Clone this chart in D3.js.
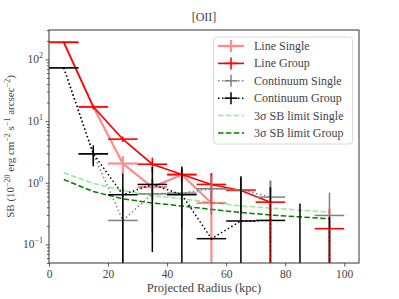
<!DOCTYPE html>
<html><head><meta charset="utf-8">
<script src="https://cdn.jsdelivr.net/npm/d3@7"></script>
<style>body{margin:0;background:#fff}svg{display:block}text{font-family:"Liberation Serif","DejaVu Serif",serif;fill:#444}</style>
</head><body><svg id="c" width="399" height="299"></svg>
<script>
const radius = [5,15,25,35,45,55,65,75,85,95];
const binHalf = 5;
const lineSingle    = [190, 17, 2.05, 0.85, 1.35, 0.47, null, null, null, null];
const lineSingleErr = [6, 1.2, 0.65, 0.3, 0.3, 0.93, null, null, null, null];
const lineGroup     = [190, 17, 5.1, 2.0, 1.36, 0.94, 0.75, 0.485, null, 0.18];
const lineGroupErr  = [6, 1.5, 0.5, 0.55, 0.35, 0.5, 0.4, 0.6, null, 0.2];
const contSingle    = [73, 2.9, 0.245, 0.66, 0.68, 0.8, 0.77, 0.585, null, 0.295];
const contSingleErr = [2, 0.8, 0.6, 0.5, 0.5, 0.5, 0.46, 0.48, null, 0.4];
const contGroup     = [73, 2.95, 0.64, 0.94, 0.64, 0.124, 0.24, 0.245, -0.2, -0.1];
const contGroupErr  = [2, 1.1, 0.77, 0.865, 1.2, 0.005, 1.03, 0.6, 0.66, 0.38];
const limSingle     = [1.45, 0.98, 0.75, 0.62, 0.55, 0.48, 0.42, 0.39, 0.36, 0.335];
const limGroup      = [1.13, 0.72, 0.55, 0.47, 0.42, 0.37, 0.33, 0.30, 0.28, 0.26];
const xTicks = [0,20,40,60,80,100];
const yTickExp = [-1,0,1,2];
const title = "[OII]";
const xLabel = "Projected Radius (kpc)";
const legendLabels = ["Line Single","Line Group","Continuum Single","Continuum Group","3σ SB limit Single","3σ SB limit Group"];

const L=49, T=30, R=359, B=263;
const svg = d3.select("#c");
const x = d3.scaleLinear().domain([0,105]).range([L,R]);
const y = d3.scaleLog().domain([0.05,300]).range([B,T]);
const ymin = y.domain()[0], ymax = y.domain()[1];

svg.append("defs").append("clipPath").attr("id","clip").append("rect")
  .attr("x",L).attr("y",T).attr("width",R-L).attr("height",B-T);
const plot = svg.append("g").attr("clip-path","url(#clip)");

const styles = {
  ls:{color:"red",op:0.45,w:2.2,dash:null},
  lg:{color:"red",op:1,w:1.6,dash:null},
  cs:{color:"#808080",op:1,w:1.5,dash:"1.5,2.5"},
  cg:{color:"black",op:1,w:1.5,dash:"1.5,2.5"},
  ms:{color:"#90ee90",op:1,w:1.5,dash:"5.5,2.4"},
  mg:{color:"green",op:1,w:1.5,dash:"5.5,2.4"}
};

const lineGen = d3.line().defined(d=>d[1]!=null && d[1]>0).x(d=>x(d[0])).y(d=>y(d[1]));

function drawLimit(vals, st){
  plot.append("path").datum(radius.map((r,i)=>[r,vals[i]]))
    .attr("d",lineGen).attr("fill","none").attr("stroke",st.color)
    .attr("stroke-width",st.w).attr("stroke-dasharray",st.dash);
}
function drawSeries(vals, errs, st){
  const g = plot.append("g").attr("opacity",st.op);
  g.append("path").datum(radius.map((r,i)=>[r,vals[i]]))
    .attr("d",lineGen).attr("fill","none").attr("stroke",st.color)
    .attr("stroke-width",st.w).attr("stroke-dasharray",st.dash);
  radius.forEach((r,i)=>{
    const v=vals[i], e=errs[i];
    if(v==null||e==null) return;
    const hi=v+e, lo=v-e;
    if(hi>0){
      const loC = lo>ymin? lo : ymin*0.5;
      g.append("line").attr("x1",x(r)).attr("x2",x(r))
        .attr("y1",y(Math.min(hi,ymax*2))).attr("y2",y(loC))
        .attr("stroke",st.color).attr("stroke-width",st.w);
    }
    if(v>0){
      g.append("line").attr("x1",x(r-binHalf)).attr("x2",x(r+binHalf))
        .attr("y1",y(v)).attr("y2",y(v)).attr("stroke",st.color).attr("stroke-width",st.w);
    }
  });
}
drawLimit(limSingle, styles.ms);
drawLimit(limGroup, styles.mg);
drawSeries(lineSingle, lineSingleErr, styles.ls);
drawSeries(lineGroup, lineGroupErr, styles.lg);
drawSeries(contSingle, contSingleErr, styles.cs);
drawSeries(contGroup, contGroupErr, styles.cg);
// off-scale lower line-group error bars drawn dashed on top
(function(){
  const g = plot.append("g");
  radius.forEach((r,i)=>{
    const v=lineGroup[i], e=lineGroupErr[i];
    if(v==null||e==null||v-e>0) return;
    g.append("line").attr("x1",x(r)).attr("x2",x(r)).attr("y1",y(v)).attr("y2",y(ymin*0.5))
      .attr("stroke","red").attr("stroke-width",1.5).attr("stroke-dasharray","2.5,2");
  });
})();

// axes
const axCol="#333";
const xa = svg.append("g").attr("transform",`translate(0,${B})`)
  .call(d3.axisBottom(x).tickValues(xTicks).tickSize(3.5).tickPadding(3).tickFormat(d3.format("d")));
const ya = svg.append("g").attr("transform",`translate(${L},0)`)
  .call(d3.axisLeft(y).tickValues(yTickExp.map(e=>Math.pow(10,e))).tickSize(3.5).tickFormat(""));
const minor=[];
for(let e=-2;e<=2;e++) for(let m=2;m<=9;m++){const v=m*Math.pow(10,e); if(v>=ymin&&v<=ymax) minor.push(v);}
const ym = svg.append("g").attr("transform",`translate(${L},0)`)
  .call(d3.axisLeft(y).tickValues(minor).tickSize(2).tickFormat(""));
[xa,ya,ym].forEach(a=>{a.select(".domain").remove(); a.selectAll("line").attr("stroke",axCol).attr("stroke-width",0.8);});
xa.selectAll("text").attr("fill","#444").style("font-family",'"Liberation Serif",serif').style("font-size","11.5px");
yTickExp.forEach(e=>{
  const t = svg.append("text").attr("x",L-6).attr("y",y(Math.pow(10,e))+4)
    .attr("text-anchor","end").style("font-size","11.5px");
  t.append("tspan").text("10");
  t.append("tspan").attr("dy",-5).style("font-size","8px").text(e<0?"−"+Math.abs(e):String(e));
});
svg.append("rect").attr("x",L).attr("y",T).attr("width",R-L).attr("height",B-T)
  .attr("fill","none").attr("stroke",axCol).attr("stroke-width",1);

svg.append("text").attr("x",(L+R)/2).attr("y",T-9).attr("text-anchor","middle").style("font-size","12px").text(title);
svg.append("text").attr("x",(L+R)/2).attr("y",292).attr("text-anchor","middle").style("font-size","12.5px").text(xLabel);
const yl = svg.append("text").attr("transform",`translate(14,${(T+B)/2}) rotate(-90)`)
  .attr("text-anchor","middle").style("font-size","11px");
yl.append("tspan").text("SB (10");
yl.append("tspan").attr("dy",-4).style("font-size","8px").text("−20");
yl.append("tspan").attr("dy",4).text(" erg cm");
yl.append("tspan").attr("dy",-4).style("font-size","8px").text("−2");
yl.append("tspan").attr("dy",4).text(" s");
yl.append("tspan").attr("dy",-4).style("font-size","8px").text("−1");
yl.append("tspan").attr("dy",4).text(" arcsec");
yl.append("tspan").attr("dy",-4).style("font-size","8px").text("−2");
yl.append("tspan").attr("dy",4).text(")");

const lg = svg.append("g");
lg.append("rect").attr("x",213.5).attr("y",37).attr("width",139).attr("height",107).attr("rx",3)
  .attr("fill","white").attr("fill-opacity",0.8).attr("stroke","#d0d0d0").attr("stroke-width",0.8);
const keys=["ls","lg","cs","cg","ms","mg"];
legendLabels.forEach((lab,i)=>{
  const st=styles[keys[i]], yy=46+i*17.4, x0=218, x1=244, xc=(x0+x1)/2;
  const g=lg.append("g").attr("opacity",st.op);
  g.append("line").attr("x1",x0).attr("x2",x1).attr("y1",yy).attr("y2",yy)
    .attr("stroke",st.color).attr("stroke-width",st.w).attr("stroke-dasharray",st.dash);
  if(i<4){
    g.append("line").attr("x1",xc-6.5).attr("x2",xc+6.5).attr("y1",yy).attr("y2",yy)
      .attr("stroke",st.color).attr("stroke-width",st.w);
    g.append("line").attr("x1",xc).attr("x2",xc).attr("y1",yy-6).attr("y2",yy+6)
      .attr("stroke",st.color).attr("stroke-width",st.w);
  }
  lg.append("text").attr("x",254).attr("y",yy+4).style("font-size","12px").text(lab);
});
</script></body></html>
